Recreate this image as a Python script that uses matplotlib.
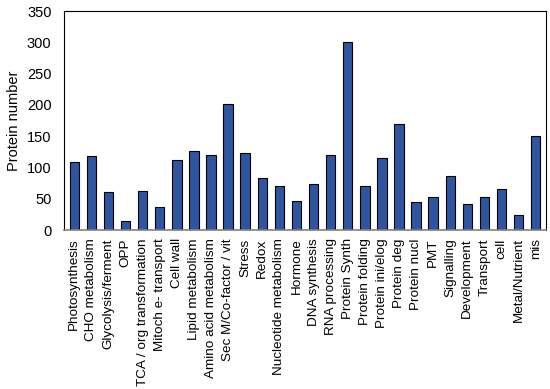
import matplotlib
matplotlib.use("Agg")
import matplotlib.pyplot as plt

categories = ["Photosynthesis", "CHO metabolism", "Glycolysis/ferment", "OPP",
              "TCA / org transformation", "Mitoch e- transport", "Cell wall",
              "Lipid metabolism", "Amino acid metabolism", "Sec M/Co-factor / vit",
              "Stress", "Redox", "Nucleotide metabolism", "Hormone", "DNA synthesis",
              "RNA processing", "Protein Synth", "Protein folding", "Protein ini/elog",
              "Protein deg", "Protein nucl", "PMT", "Signalling", "Development",
              "Transport", "cell", "Metal/Nutrient", "mis"]
counts = [108, 118, 60, 15, 63, 37, 112, 126, 120, 201, 123, 83, 70, 46, 74,
          120, 300, 70, 115, 170, 45, 53, 86, 41, 52, 66, 24, 151]

plt.rcParams['font.family'] = ['Liberation Sans', 'DejaVu Sans']

fig = plt.figure(figsize=(5.5, 3.89), dpi=100)
ax = fig.add_axes([0.1164, 0.4087, 0.8763, 0.563])

x = range(len(categories))
ax.bar(x, counts, width=0.55, color='#2E559E', edgecolor='black', linewidth=0.8)

ax.set_xlim(-0.6, len(categories) - 0.4)
ax.set_ylim(0, 350)
ax.set_yticks(range(0, 351, 50))
ax.set_xticks(list(x))
ax.set_xticklabels(categories, rotation=90, fontsize=9.7)
ax.tick_params(axis='y', labelsize=10.5, length=0, pad=9)
ax.tick_params(axis='x', length=0, pad=6)
ax.set_ylabel('Protein number', fontsize=10.5, labelpad=4)

for s in ax.spines.values():
    s.set_linewidth(0.8)
ax.spines['bottom'].set_color('#808080')
ax.spines['bottom'].set_linewidth(1.2)

fig.savefig('out.png', dpi=100)
